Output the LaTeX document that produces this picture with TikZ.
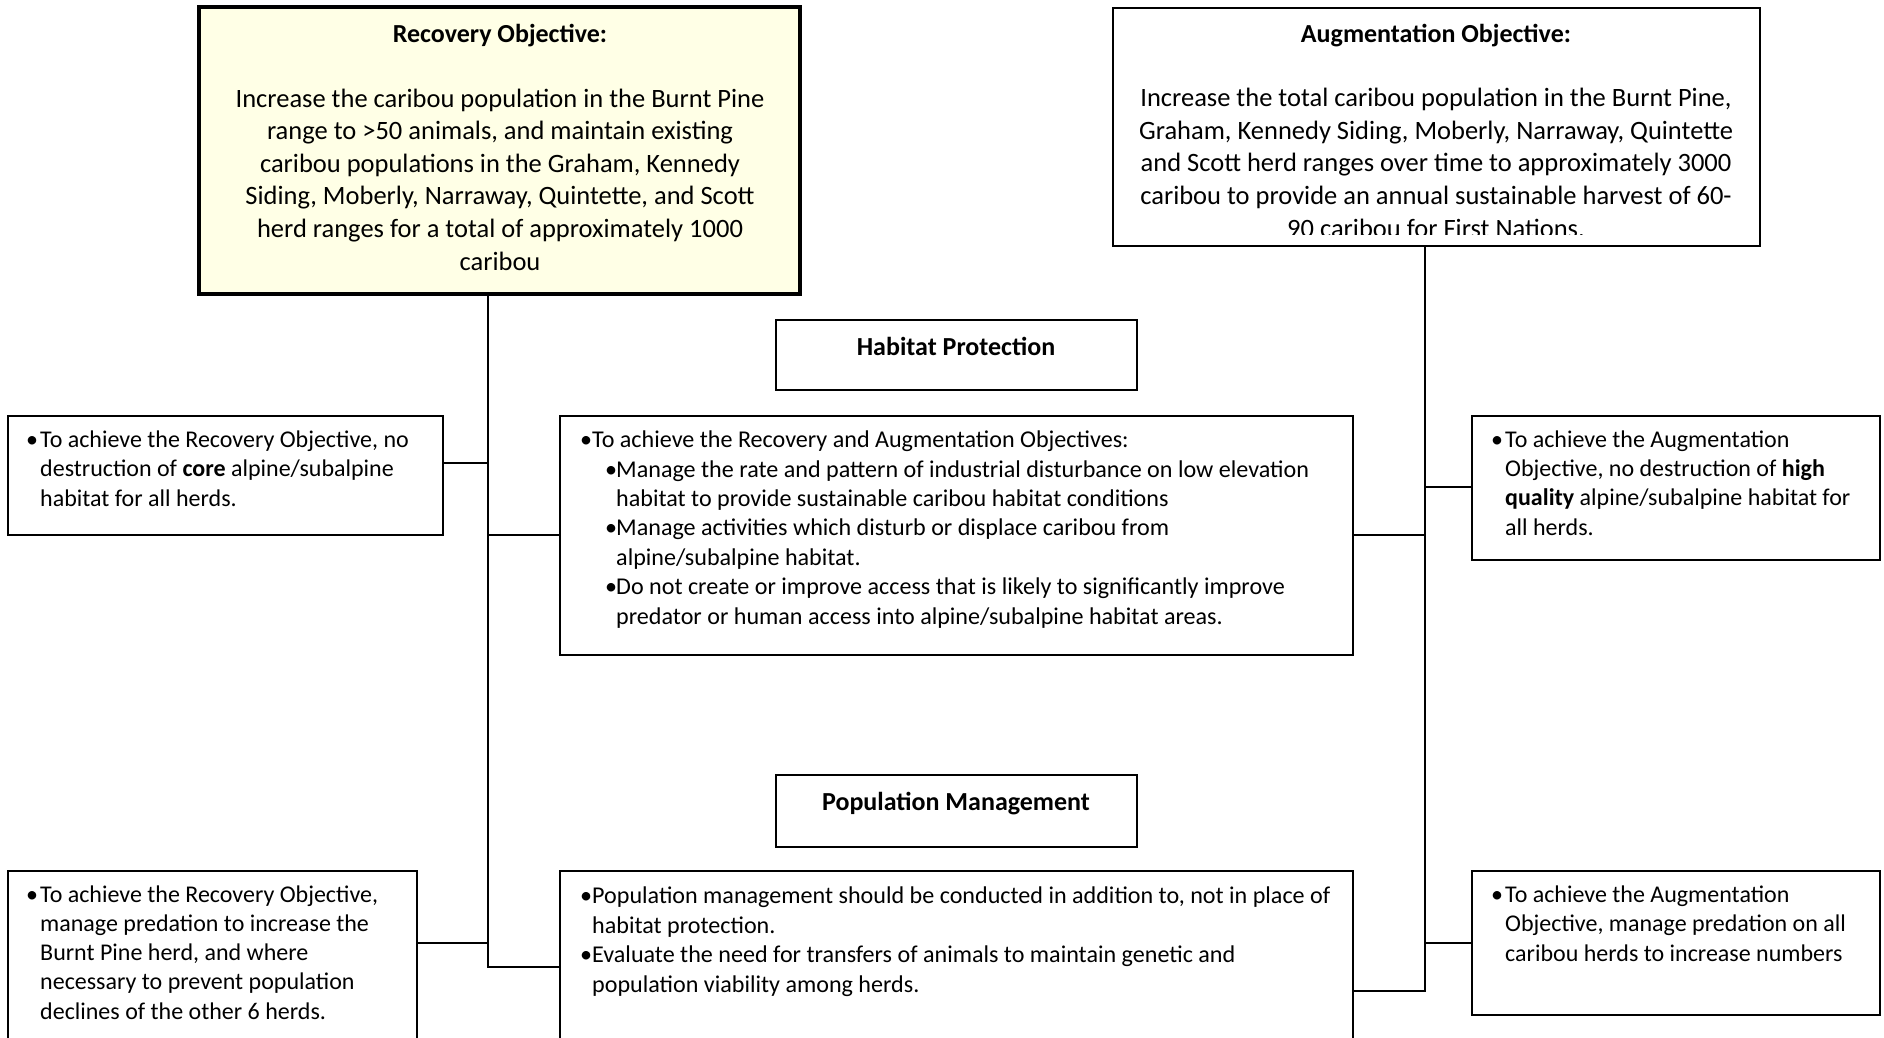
\documentclass[tikz,border=0pt]{standalone}
\usepackage{fontspec}
\setmainfont{Carlito}
\definecolor{recfill}{RGB}{255,255,230}
\newcommand{\mybul}[1]{\makebox[#1pt][l]{\textbullet}}
\newcommand{\myind}[1]{\hspace*{#1pt}}
\tikzset{
  box/.style={draw, line width=1.6pt, inner sep=0pt, outer sep=0pt, anchor=north west},
  conn/.style={line width=1.8pt},
  bigtxt/.style={inner sep=0pt, align=center, font=\fontsize{26.5}{32.6}\selectfont},
  sidetxt/.style={anchor=base west, inner sep=0pt, align=left, font=\fontsize{24}{29.1}\selectfont},
  midtxt/.style={anchor=base west, inner sep=0pt, align=left, font=\fontsize{24.1}{29.4}\selectfont},
  ttl/.style={inner sep=0pt, anchor=base, font=\bfseries\fontsize{26}{30}\selectfont},
}
\begin{document}
\begin{tikzpicture}[x=1pt,y=-1pt]
\useasboundingbox (0,0) rectangle (1884,1038);
\clip (0,0) rectangle (1884,1038);
\fill[white] (0,0) rectangle (1884,1038);
% boxes
\node[box, line width=3.5pt, fill=recfill, minimum width=601pt, minimum height=287pt] (rec) at (199,7) {};
\node[box, minimum width=647pt, minimum height=238pt] (aug) at (1113,8) {};
\node[box, minimum width=361pt, minimum height=70pt] (hpt) at (776,320) {};
\node[box, minimum width=793pt, minimum height=239pt] (hpc) at (560,416) {};
\node[box, minimum width=435pt, minimum height=119pt] (lt) at (8,416) {};
\node[box, minimum width=408pt, minimum height=144pt] (rt) at (1472,416) {};
\node[box, minimum width=361pt, minimum height=72pt] (pmt) at (776,775) {};
\node[box, minimum width=793pt, minimum height=220pt] (pmc) at (560,871) {};
\node[box, minimum width=409pt, minimum height=220pt] (lb) at (8,871) {};
\node[box, minimum width=408pt, minimum height=144pt] (rb) at (1472,871) {};
% connectors
\coordinate (La) at (488,463);
\coordinate (Lb) at (488,535);
\coordinate (Lc) at (488,943);
\coordinate (Ld) at (488,967);
\coordinate (Ra) at (1425,487);
\coordinate (Rb) at (1425,535);
\coordinate (Rc) at (1425,943);
\coordinate (Rd) at (1425,991);
\draw[conn] (rec.south -| La) -- (Ld) -- (Ld -| pmc.west);
\draw[conn] (La) -- (La -| lt.east);
\draw[conn] (Lb) -- (Lb -| hpc.west);
\draw[conn] (Lc) -- (Lc -| lb.east);
\draw[conn] (aug.south -| Ra) -- (Rd) -- (Rd -| pmc.east);
\draw[conn] (Ra) -- (Ra -| rt.west);
\draw[conn] (Rb) -- (Rb -| hpc.east);
\draw[conn] (Rc) -- (Rc -| rb.west);
% titles
\node[ttl] (rect) at (500,43) {Recovery Objective:};
\node[ttl] (augt) at (1436,43) {Augmentation Objective:};
\node[ttl] (hptt) at (956,355) {Habitat Protection};
\node[ttl] (pmtt) at (956,810) {Population Management};
% top bodies (anchored at the baseline of the last line)
\node[bigtxt, anchor=base] (recb) at (500,270) {Increase the caribou population in the Burnt Pine\\ range to >50 animals, and maintain existing\\ caribou populations in the Graham, Kennedy\\ Siding, Moberly, Narraway, Quintette, and Scott\\ herd ranges for a total of approximately 1000\\ caribou};
\coordinate (augclip) at (1760,234);
\begin{scope}
\clip (aug.north west) rectangle (augclip);
\node[bigtxt, anchor=base] (augb) at (1436,237) {Increase the total caribou population in the Burnt Pine,\\ Graham, Kennedy Siding, Moberly, Narraway, Quintette\\ and Scott herd ranges over time to approximately 3000\\ caribou to provide an annual sustainable harvest of 60-\\ 90 caribou for First Nations.};
\end{scope}
% side texts
\node[sidetxt] (ltb) at (26,506) {\mybul{14}To achieve the Recovery Objective, no\\ \myind{14}destruction of \textbf{core} alpine/subalpine\\ \myind{14}habitat for all herds.};
\node[sidetxt] (rtb) at (1491,535) {\mybul{14}To achieve the Augmentation\\ \myind{14}Objective, no destruction of \textbf{high}\\ \myind{14}\textbf{quality} alpine/subalpine habitat for\\ \myind{14}all herds.};
\node[sidetxt] (lbb) at (26,1019) {\mybul{14}To achieve the Recovery Objective,\\ \myind{14}manage predation to increase the\\ \myind{14}Burnt Pine herd, and where\\ \myind{14}necessary to prevent population\\ \myind{14}declines of the other 6 herds.};
\node[sidetxt] (rbb) at (1491,961) {\mybul{14}To achieve the Augmentation\\ \myind{14}Objective, manage predation on all\\ \myind{14}caribou herds to increase numbers};
% middle texts
\node[midtxt] (hpcb) at (580,624) {\mybul{12}To achieve the Recovery and Augmentation Objectives:\\ \myind{25}\mybul{11}Manage the rate and pattern of industrial disturbance on low elevation\\ \myind{36}habitat to provide sustainable caribou habitat conditions\\ \myind{25}\mybul{11}Manage activities which disturb or displace caribou from\\ \myind{36}alpine/subalpine habitat.\\ \myind{25}\mybul{11}Do not create or improve access that is likely to significantly improve\\ \myind{36}predator or human access into alpine/subalpine habitat areas.};
\node[midtxt] (pmcb) at (580,992) {\mybul{12}Population management should be conducted in addition to, not in place of\\ \myind{12}habitat protection.\\ \mybul{12}Evaluate the need for transfers of animals to maintain genetic and\\ \myind{12}population viability among herds.};
\end{tikzpicture}
\end{document}
